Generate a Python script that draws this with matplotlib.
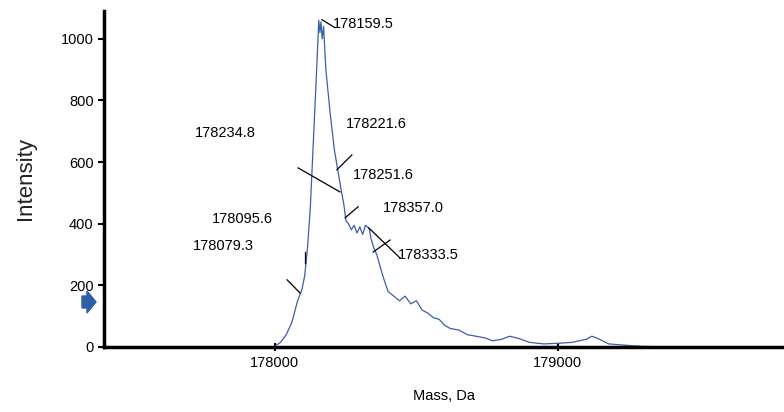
import matplotlib
matplotlib.use("Agg")
import matplotlib.pyplot as plt
from matplotlib.patches import FancyArrow

plt.rcParams['font.family'] = ['Liberation Sans', 'DejaVu Sans']

mass = [177396, 177990, 178000, 178020, 178040, 178060, 178080, 178095, 178105, 178115,
        178125, 178135, 178145, 178155, 178159, 178163, 178167, 178172, 178180, 178195,
        178210, 178221, 178234, 178244, 178251, 178260, 178270, 178280, 178290, 178300,
        178310, 178320, 178333, 178340, 178350, 178360, 178372, 178385, 178400, 178420,
        178440, 178460, 178480, 178500, 178520, 178540, 178560, 178580, 178600, 178620,
        178650, 178680, 178710, 178740, 178770, 178800, 178830, 178860, 178900, 178950,
        179000, 179050, 179100, 179120, 179140, 179180, 179250, 179300, 179400, 179799]
intensity = [0, 0, 3, 15, 40, 80, 150, 185, 230, 320,
             450, 650, 850, 1060, 1020, 1055, 1000, 1040, 900, 760,
             640, 580, 510, 460, 410, 400, 380, 395, 370, 390,
             365, 395, 385, 350, 320, 300, 260, 220, 180, 165,
             150, 165, 140, 150, 120, 110, 95, 90, 70, 60,
             55, 40, 35, 30, 20, 25, 35, 28, 15, 10,
             12, 15, 25, 35, 28, 10, 5, 2, 0, 0]

labels = ["178159.5", "178221.6", "178234.8", "178251.6", "178357.0", "178333.5", "178095.6", "178079.3"]
label_xy = [(178205, 1049), (178251, 724), (177718, 695), (178276, 558), (178382, 451),
            (178435, 299), (177778, 416), (177711, 328)]
leader = [((178166, 178212), (1062, 1036)), ((178219, 178272), (575, 623)),
          ((178082, 178230), (581, 503)), ((178248, 178294), (419, 455)),
          ((178332, 178442), (386, 289)), ((178347, 178407), (308, 347)),
          ((178106, 178106), (308, 273)), ((178043, 178089), (218, 175))]

fig = plt.figure(figsize=(7.84, 4.12), dpi=100)
ax = fig.add_axes([104/784, 65/412, 680/784, 336/412])
ax.plot(mass, intensity, color='#3a5fa8', lw=0.9)
for (xs, ys) in leader:
    ax.plot(xs, ys, color='black', lw=0.9)
for t, (x, y) in zip(labels, label_xy):
    ax.text(x, y, t, fontsize=10.5, va='center', ha='left')

ax.set_xlim(177396, 179799)
ax.set_ylim(0, 1090)
ax.set_xticks([178000, 179000])
ax.set_yticks([0, 200, 400, 600, 800, 1000])
ax.tick_params(labelsize=10.5, width=1.5, length=4)
ax.tick_params(axis='x', direction='inout', length=6)
for s in ['top', 'right']:
    ax.spines[s].set_visible(False)
for s in ['left', 'bottom']:
    ax.spines[s].set_linewidth(2.5)
ax.set_xlabel("Mass, Da", fontsize=10.5, labelpad=14)
ax.set_ylabel("Intensity", fontsize=16, color='#222222', labelpad=18)

fig.patches.append(FancyArrow(82/784, 110/412, 14/784, 0, width=12/412, head_width=22/412,
                              head_length=9/784, length_includes_head=True,
                              transform=fig.transFigure, color='#2f5ea8', figure=fig))
fig.savefig("out.png", dpi=100)
